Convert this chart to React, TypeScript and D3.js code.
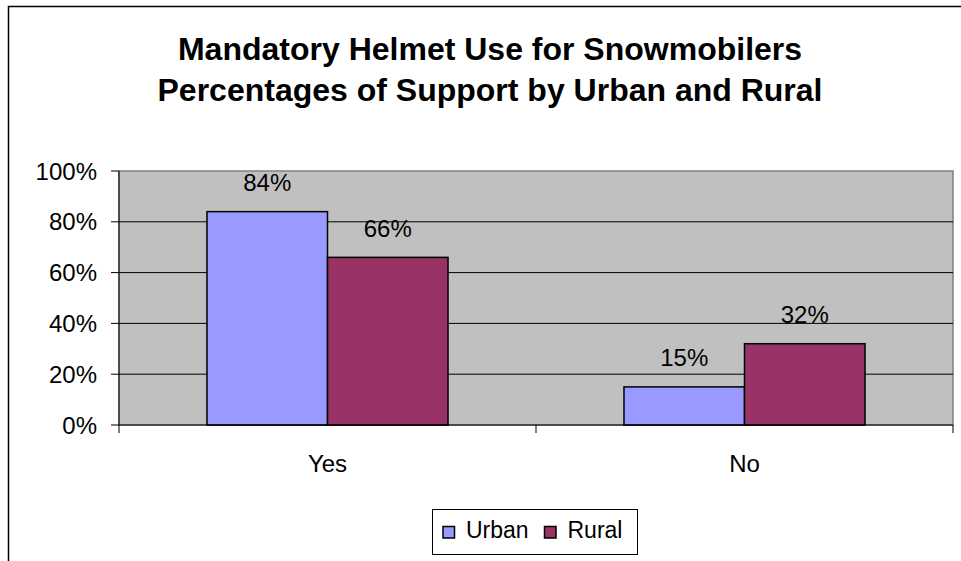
import React from "react";
import * as d3 from "d3";

const categories = ["Yes", "No"];
const seriesNames = ["Urban", "Rural"];
const urbanValues = [84, 15];
const ruralValues = [66, 32];
const yTicks = [0, 20, 40, 60, 80, 100];
const titleLines = ["Mandatory Helmet Use for Snowmobilers", "Percentages of Support by Urban and Rural"];
const colors = ["#9999FF", "#993366"];

export default function App() {
  const W = 961, H = 561;
  const left = 119, right = 953, top = 171, bottom = 425;
  const x = d3.scaleBand<string>().domain(categories).range([left, right]).paddingInner(0).paddingOuter(0);
  const y = d3.scaleLinear().domain([0, 100]).range([bottom, top]);
  const inner = d3.scaleBand<string>().domain(seriesNames).range([0, x.bandwidth()]).paddingOuter(0.73).paddingInner(0);
  const series = [urbanValues, ruralValues];
  const font = "'Liberation Sans', Arial, sans-serif";
  return (
    <svg width={W} height={H} style={{ position: "absolute", left: 0, top: 0 }} fontFamily={font}>
      <rect x={0} y={0} width={W} height={H} fill="#fff" />
      <rect x={8.5} y={6.5} width={W + 10} height={H + 10} fill="none" stroke="#000" strokeWidth={1.5} />
      {titleLines.map((t, i) => (
        <text key={i} x={490} y={59.5 + i * 41} textAnchor="middle" fontWeight="bold" fontSize={32}>{t}</text>
      ))}
      <rect x={left} y={top} width={right - left} height={bottom - top} fill="#C0C0C0" stroke="#808080" strokeWidth={1.5} />
      {yTicks.map((t) => (
        <g key={t}>
          {t > 0 && t < 100 && <line x1={left} x2={right} y1={y(t)} y2={y(t)} stroke="#000" strokeWidth={1} />}
          <line x1={111} x2={left} y1={y(t)} y2={y(t)} stroke="#000" strokeWidth={1} />
          <text x={97} y={y(t) + 8.5} textAnchor="end" fontSize={24}>{t}%</text>
        </g>
      ))}
      {categories.map((c, ci) => (
        <g key={c}>
          {series.map((vals, si) => {
            const bx = (x(c) as number) + (inner(seriesNames[si]) as number);
            const bw = inner.bandwidth();
            return (
              <g key={si}>
                <rect x={bx} y={y(vals[ci])} width={bw} height={bottom - y(vals[ci])} fill={colors[si]} stroke="#000" strokeWidth={1.5} />
                <text x={bx + bw / 2} y={y(vals[ci]) - 20.5} textAnchor="middle" fontSize={24}>{vals[ci]}%</text>
              </g>
            );
          })}
          <text x={(x(c) as number) + x.bandwidth() / 2} y={472} textAnchor="middle" fontSize={24}>{c}</text>
        </g>
      ))}
      <line x1={left} x2={right} y1={bottom} y2={bottom} stroke="#000" strokeWidth={1} />
      <line x1={left} x2={left} y1={top} y2={bottom} stroke="#000" strokeWidth={1} />
      {[...categories.map((c) => x(c) as number), right].map((tx, i) => (
        <line key={i} x1={tx} x2={tx} y1={bottom} y2={bottom + 8} stroke="#000" strokeWidth={1} />
      ))}
      <rect x={432.5} y={509.5} width={205} height={45} fill="#fff" stroke="#000" strokeWidth={1} />
      {seriesNames.map((s, i) => {
        const lx = 443 + i * 101.5;
        return (
          <g key={s}>
            <rect x={lx} y={526.5} width={11.5} height={11.5} fill={colors[i]} stroke="#000" strokeWidth={1.5} />
            <text x={lx + 23} y={538} fontSize={23}>{s}</text>
          </g>
        );
      })}
    </svg>
  );
}
